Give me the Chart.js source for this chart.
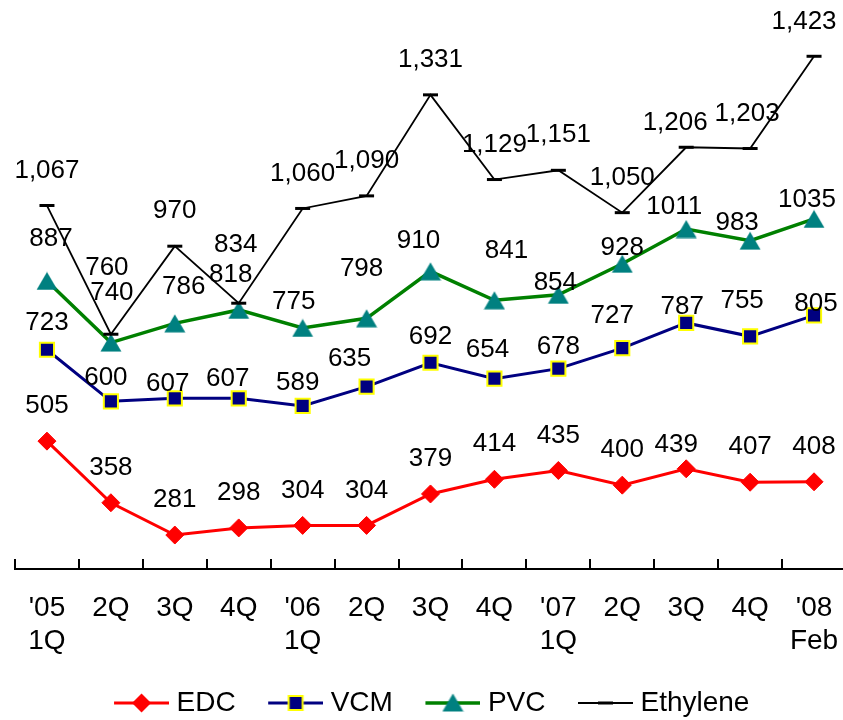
<!DOCTYPE html>
<html>
<head>
<meta charset="utf-8">
<script src="https://cdn.jsdelivr.net/npm/chart.js@4.4.1/dist/chart.umd.min.js"></script>
<style>
  html, body { margin: 0; padding: 0; background: #fff; overflow: hidden; }
  #chart { display: block; }
</style>
</head>
<body>
<canvas id="chart" width="847" height="720"></canvas>
<script>
// Quarterly prices, '05 1Q through '08 Feb
const categories = [["'05", "1Q"], "2Q", "3Q", "4Q", ["'06", "1Q"], "2Q", "3Q", "4Q", ["'07", "1Q"], "2Q", "3Q", "4Q", ["'08", "Feb"]];
const edc      = [505, 358, 281, 298, 304, 304, 379, 414, 435, 400, 439, 407, 408];
const vcm      = [723, 600, 607, 607, 589, 635, 692, 654, 678, 727, 787, 755, 805];
const pvc      = [887, 740, 786, 818, 775, 798, 910, 841, 854, 928, 1011, 983, 1035];
const ethylene = [1067, 760, 970, 834, 1060, 1090, 1331, 1129, 1151, 1050, 1206, 1203, 1423];

// Value-label placement: [dx, dy] from the point; anything not listed sits straight above
const DEFAULT_NUDGE = [0, -35];
const edcNudge = { 10: [-10, -24] };
const vcmNudge = { 0: [0, -27], 1: [-5, -23], 2: [-7, -15], 3: [-11, -20], 4: [-5, -23], 5: [-17, -28],
                   6: [0, -26], 7: [-7, -29], 8: [0, -22], 9: [-10, -32], 10: [-4, -16], 11: [-8, -35], 12: [2, -12] };
const pvcNudge = { 0: [4, -42], 1: [1, -50], 2: [9, -37], 3: [-8, -35], 4: [-9, -26], 5: [-5, -49],
                   6: [-12, -31], 7: [12, -49], 8: [-3, -12], 9: [0, -16], 10: [-12, -22], 11: [-13, -18], 12: [-7, -19] };
const ethyleneNudge = { 1: [-4, -66], 3: [-3, -58], 10: [-11, -24], 11: [-3, -35], 12: [-10, -34] };

const FONT = '"Liberation Sans", Arial, Helvetica, sans-serif';
const RED = '#FF0000', NAVY = '#000080', YELLOW = '#FFFF00', GREEN = '#008000', TEAL = '#008080', BLACK = '#000000';

// Triangle marker centred on its bounding box
function triangleMarker() {
  const c = document.createElement('canvas');
  c.width = 22; c.height = 19;
  const g = c.getContext('2d');
  g.fillStyle = TEAL;
  g.beginPath();
  g.moveTo(11, 0.5); g.lineTo(21.5, 18.5); g.lineTo(0.5, 18.5); g.closePath();
  g.fill();
  return c;
}
const triMarker = triangleMarker();

// Legend icons: a 55px line segment with the series marker in the middle,
// drawn right of centre on a wider canvas so the text gap stays tight
function legendIcon(lineColor, lineWidth, drawMarker) {
  const c = document.createElement('canvas');
  c.width = 64; c.height = 24;
  const g = c.getContext('2d');
  g.strokeStyle = lineColor; g.lineWidth = lineWidth;
  g.beginPath(); g.moveTo(9, 12); g.lineTo(64, 12); g.stroke();
  drawMarker(g, 36.5, 12);
  return c;
}
const iconEDC = legendIcon(RED, 3, (g, x, y) => {
  g.fillStyle = RED; g.beginPath();
  g.moveTo(x, y - 9.5); g.lineTo(x + 9.5, y); g.lineTo(x, y + 9.5); g.lineTo(x - 9.5, y); g.closePath(); g.fill();
});
const iconVCM = legendIcon(NAVY, 3, (g, x, y) => {
  g.fillStyle = NAVY; g.fillRect(x - 7, y - 7, 14, 14);
  g.strokeStyle = YELLOW; g.lineWidth = 2; g.strokeRect(x - 7, y - 7, 14, 14);
});
const iconPVC = legendIcon(GREEN, 3.5, (g, x, y) => {
  g.drawImage(triMarker, x - 11, y - 10);
});
const iconEthylene = legendIcon(BLACK, 1.8, (g, x, y) => {
  g.fillStyle = BLACK; g.fillRect(x - 7.5, y - 1.5, 15, 3);
});

// Upward tick marks on the category boundaries
const axisTicks = {
  id: 'axisTicks',
  afterDraw(chart) {
    const xs = chart.scales.x;
    const ctx = chart.ctx;
    const bottom = chart.chartArea.bottom;
    ctx.save();
    ctx.strokeStyle = BLACK;
    ctx.lineWidth = 2;
    ctx.beginPath();
    for (let i = 0; i <= categories.length; i++) {
      const x = Math.round(xs.getPixelForValue(i - 0.5));
      ctx.moveTo(x, bottom + 1);
      ctx.lineTo(x, bottom - 10);
    }
    ctx.stroke();
    ctx.restore();
  }
};

// Value labels above each point
const valueLabels = {
  id: 'valueLabels',
  afterDatasetsDraw(chart) {
    const ctx = chart.ctx;
    ctx.save();
    ctx.font = '26px ' + FONT;
    ctx.fillStyle = BLACK;
    ctx.textAlign = 'center';
    ctx.textBaseline = 'middle';
    chart.data.datasets.forEach((ds, di) => {
      const meta = chart.getDatasetMeta(di);
      meta.data.forEach((pt, i) => {
        const n = ds.labelNudge[i] || DEFAULT_NUDGE;
        const v = ds.data[i];
        const text = ds.groupDigits ? v.toLocaleString('en-US') : String(v);
        ctx.fillText(text, pt.x + n[0], pt.y + n[1]);
      });
    });
    ctx.restore();
  }
};

new Chart(document.getElementById('chart'), {
  type: 'line',
  data: {
    labels: categories,
    datasets: [
      {
        label: 'Ethylene', data: ethylene, labelNudge: ethyleneNudge, groupDigits: true,
        borderColor: BLACK, borderWidth: 1.8,
        pointStyle: 'line', pointRadius: 7.5, pointBorderWidth: 3, pointBorderColor: BLACK
      },
      {
        label: 'PVC', data: pvc, labelNudge: pvcNudge, groupDigits: false,
        borderColor: GREEN, borderWidth: 3.5,
        pointStyle: triMarker, pointRadius: 11
      },
      {
        label: 'VCM', data: vcm, labelNudge: vcmNudge, groupDigits: false,
        borderColor: NAVY, borderWidth: 3,
        pointStyle: 'rect', pointRadius: 10, pointBackgroundColor: NAVY,
        pointBorderColor: YELLOW, pointBorderWidth: 2
      },
      {
        label: 'EDC', data: edc, labelNudge: edcNudge, groupDigits: false,
        borderColor: RED, borderWidth: 3,
        pointStyle: 'rectRot', pointRadius: 9, pointBackgroundColor: RED,
        pointBorderColor: RED, pointBorderWidth: 1
      }
    ]
  },
  options: {
    responsive: false,
    maintainAspectRatio: false,
    animation: false,
    devicePixelRatio: 1,
    events: [],
    clip: false,
    elements: { line: { tension: 0 } },
    layout: { autoPadding: false, padding: { top: 24, left: 15, right: 1, bottom: 0 } },
    scales: {
      x: {
        type: 'category',
        offset: true,
        grid: { display: true, drawOnChartArea: false, drawTicks: true, tickLength: 19, tickColor: 'rgba(0,0,0,0)' },
        border: { display: true, color: BLACK, width: 2 },
        ticks: {
          color: BLACK, padding: 3, maxRotation: 0, autoSkip: false,
          font: { family: FONT, size: 28, lineHeight: 1.2 }
        },
        afterFit(scale) { scale.height = 90; scale.paddingLeft = 0; scale.paddingRight = 0; }
      },
      y: { display: false, min: 200, max: 1500 }
    },
    plugins: {
      tooltip: { enabled: false },
      legend: {
        position: 'bottom',
        maxHeight: 61,
        labels: {
          usePointStyle: true,
          pointStyleWidth: 51,
          padding: 30,
          color: BLACK,
          font: { family: FONT, size: 28 },
          generateLabels() {
            return [
              { text: 'EDC', pointStyle: iconEDC, datasetIndex: 3, lineWidth: 0, hidden: false, fontColor: BLACK },
              { text: 'VCM', pointStyle: iconVCM, datasetIndex: 2, lineWidth: 0, hidden: false, fontColor: BLACK },
              { text: 'PVC', pointStyle: iconPVC, datasetIndex: 1, lineWidth: 0, hidden: false, fontColor: BLACK },
              { text: 'Ethylene', pointStyle: iconEthylene, datasetIndex: 0, lineWidth: 0, hidden: false, fontColor: BLACK }
            ];
          }
        }
      }
    }
  },
  plugins: [axisTicks, valueLabels]
});
</script>
</body>
</html>
